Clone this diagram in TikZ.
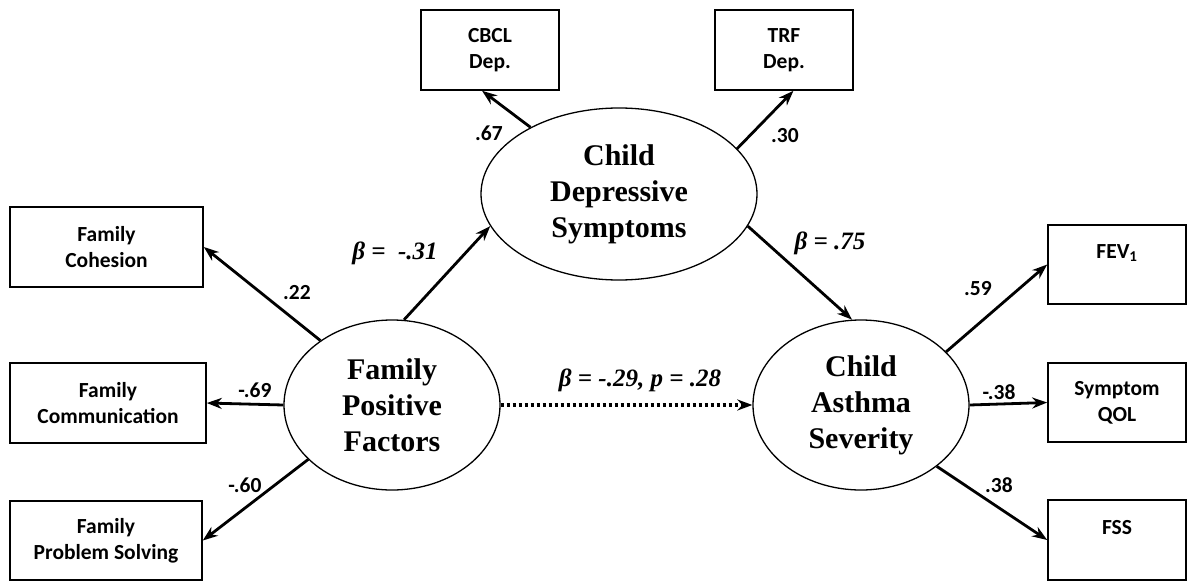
\documentclass[tikz,border=0pt]{standalone}
\usepackage{fontspec}
\setmainfont{Liberation Serif}
\newfontfamily\boxfont{Carlito}
\usetikzlibrary{shapes.geometric,arrows.meta}

\begin{document}
\begin{tikzpicture}[x=1pt,y=-1pt,>={Stealth[length=15pt,width=11pt]}]
\tikzstyle{obs}=[draw,line width=1.6pt,minimum width=138pt,minimum height=80pt,align=center,font=\boxfont\bfseries\fontsize{21.5}{26}\selectfont]
\tikzstyle{lat}=[ellipse,draw,line width=1.3pt,inner sep=0pt,minimum width=216pt,minimum height=170pt,align=center,font=\bfseries\fontsize{30}{36}\selectfont]
\tikzstyle{ld}=[font=\boxfont\bfseries\fontsize{21.5}{26}\selectfont]
\tikzstyle{beta}=[font=\bfseries\itshape\fontsize{25}{30}\selectfont]
\tikzstyle{path}=[line width=2.8pt,->]
\useasboundingbox (0,0) rectangle (1187,581);
% latent variables
\node[lat] (fpf) at (392,405) {Family\\Positive\\Factors};
\node[lat] (cas) at (861,405) {Child\\Asthma\\Severity};
\node[lat,minimum width=276pt,minimum height=172pt] (cds) at (619,194) {Child\\Depressive\\Symptoms};
% indicators
\node[obs,minimum width=193pt] (fc) at (106.5,247) {Family\\Cohesion};
\node[obs,minimum width=196pt] (fcm) at (108,403) {Family\\Communication};
\node[obs,minimum width=192pt,minimum height=79pt] (fps) at (106,540.5) {Family\\Problem Solving};
\node[obs] (cbcl) at (490,50) {CBCL\\Dep.};
\node[obs] (trf) at (784,50) {TRF\\Dep.};
\node[obs,minimum height=79pt] (fev) at (1117,264.5) {FEV\textsubscript{1}\\~};
\node[obs,minimum height=79pt] (qol) at (1117,402.5) {Symptom\\QOL};
\node[obs] (fss) at (1117,540) {FSS\\~};
% loadings
\draw[path] (fpf.138) -- (fc.east);
\draw[path] (fpf.west) -- (fcm.east);
\draw[path] (fpf.213) -- (fps.east);
\draw[path] (cds.143) -- (cbcl.259);
\draw[path] (cds.21) -- (trf.283);
\draw[path] (cas.32) -- (fev.west);
\draw[path] (cas.east) -- (qol.west);
\draw[path] (cas.321) -- (fss.west);
% structural paths
\draw[path] (fpf.82) -- (cds.194);
\draw[path] (cds.346) -- (cas.96);
\draw[path,line width=3.2pt,dash pattern=on 3pt off 3pt] (fpf.east) -- (cas.west);
% labels
\node[ld] (l1) at (297,293) {.22};
\node[ld] (l2) at (255,390) {-.69};
\node[ld] (l3) at (245,485) {-.60};
\node[ld] (l4) at (489,133) {.67};
\node[ld] (l5) at (785,136) {.30};
\node[ld] (l6) at (978,289) {.59};
\node[ld] (l7) at (999,392) {-.38};
\node[ld] (l8) at (999,485) {.38};
\node[beta] (b1) at (395,253) {β =\ \ -.31};
\node[beta] (b2) at (830,243) {β = .75};
\node[beta] (b3) at (640,380) {β = -.29, p = .28};
\end{tikzpicture}
\end{document}
